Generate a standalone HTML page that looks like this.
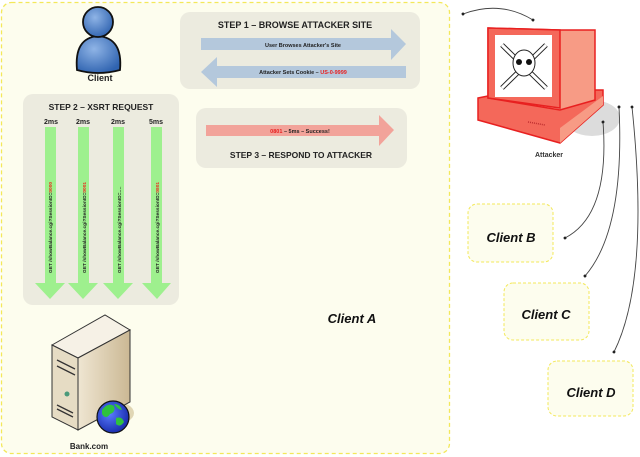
<!DOCTYPE html>
<html><head><meta charset="utf-8"><style>
html,body{margin:0;padding:0;background:#fff;width:640px;height:457px;overflow:hidden}
svg{display:block}
text{font-family:"Liberation Sans",Arial,sans-serif;font-weight:bold}
</style></head><body>
<svg width="640" height="457" viewBox="0 0 640 457" xmlns="http://www.w3.org/2000/svg">
<defs>
<marker id="ah" markerWidth="6" markerHeight="6" refX="3" refY="3" orient="auto"><circle cx="3" cy="3" r="1.6" fill="#222"/></marker>
<radialGradient id="glob" cx="0.4" cy="0.4" r="0.6"><stop offset="0" stop-color="#5a7cff"/><stop offset="1" stop-color="#1b2fb0"/></radialGradient>
<linearGradient id="srv" x1="0" x2="1"><stop offset="0" stop-color="#efe6d2"/><stop offset="1" stop-color="#cbb894"/></linearGradient>
<radialGradient id="person" cx="0.4" cy="0.35" r="0.7"><stop offset="0" stop-color="#8fb4e6"/><stop offset="1" stop-color="#2f63b0"/></radialGradient>
</defs>
<rect x="1.5" y="2.5" width="448" height="451" rx="10" fill="#fdfdee" stroke="#f3e85a" stroke-width="1.3" stroke-dasharray="4,3"/>
<!-- person -->
<path d="M77 70 Q74 38 98 36 Q123 38 120 70 Q98 76 77 70 Z" fill="url(#person)" stroke="#111" stroke-width="1.8"/>
<circle cx="98" cy="22" r="15" fill="url(#person)" stroke="#111" stroke-width="1.8"/>
<text x="100" y="81" font-size="9" text-anchor="middle" fill="#222">Client</text>
<!-- Step 1 -->
<rect x="180" y="12" width="240" height="77" rx="10" fill="#ecebdf"/>
<text x="295" y="28" font-size="9" text-anchor="middle" fill="#222">STEP 1 – BROWSE ATTACKER SITE</text>
<polygon points="201,38 391,38 391,29 406,44 391,60 391,50 201,50" fill="#b4c8dc"/>
<text x="303" y="47" font-size="5.5" text-anchor="middle" fill="#222">User Browses Attacker's Site</text>
<polygon points="406,66 217,66 217,57 201,72 217,87 217,78 406,78" fill="#b4c8dc"/>
<text x="303" y="74" font-size="5.5" text-anchor="middle" fill="#222">Attacker Sets Cookie – <tspan fill="#e82020">US-0-9999</tspan></text>
<!-- Step 2 -->
<rect x="23" y="94" width="156" height="211" rx="10" fill="#ecebdf"/>
<text x="101" y="110" font-size="8.5" text-anchor="middle" fill="#222">STEP 2 – XSRT REQUEST</text>
<g font-size="7" fill="#222" text-anchor="middle"><text x="51" y="124">2ms</text><text x="83" y="124">2ms</text><text x="118" y="124">2ms</text><text x="156" y="124">5ms</text></g>
<g fill="#9ef08e">
<polygon points="45,127 56,127 56,283 65,283 50,299 35,283 45,283"/>
<polygon points="78,127 89,127 89,283 98,283 83,299 68,283 78,283"/>
<polygon points="113,127 124,127 124,283 133,283 118,299 103,283 113,283"/>
<polygon points="151,127 162,127 162,283 171,283 157,299 142,283 151,283"/>
</g>
<g font-size="4.8" fill="#222">
<text transform="translate(52,273) rotate(-90)">GET /showBalance.cgi?SessionID=<tspan fill="#e83020">0000</tspan></text>
<text transform="translate(86,273) rotate(-90)">GET /showBalance.cgi?SessionID=<tspan fill="#e83020">0001</tspan></text>
<text transform="translate(121,273) rotate(-90)">GET /showBalance.cgi?SessionID=….</text>
<text transform="translate(159,273) rotate(-90)">GET /showBalance.cgi?SessionID=<tspan fill="#e83020">0801</tspan></text>
</g>
<!-- Step 3 -->
<rect x="196" y="108" width="211" height="60" rx="10" fill="#ecebdf"/>
<polygon points="206,125 379,125 379,115 394,130 379,146 379,136 206,136" fill="#f2a39a"/>
<text x="300" y="133" font-size="5.5" text-anchor="middle" fill="#222"><tspan fill="#e82020">0801</tspan> – 5ms – Success!</text>
<text x="301" y="158" font-size="8.5" text-anchor="middle" fill="#222">STEP 3 – RESPOND TO ATTACKER</text>
<text x="352" y="323" font-size="13" font-style="italic" text-anchor="middle" fill="#111">Client A</text>
<!-- server -->
<ellipse cx="112" cy="413" rx="22" ry="12" fill="#e0d6b4"/>
<polygon points="52,345 105,315 130,330 78,358" fill="#f6f1e6" stroke="#333" stroke-width="1"/>
<polygon points="52,345 78,358 78,430 52,417" fill="#e6dcc4" stroke="#333" stroke-width="1"/>
<polygon points="78,358 130,330 130,402 78,430" fill="url(#srv)" stroke="#333" stroke-width="1"/>
<g stroke="#333" stroke-width="1.3"><line x1="57" y1="360" x2="75" y2="369"/><line x1="57" y1="366" x2="75" y2="375"/><line x1="57" y1="405" x2="73" y2="413"/><line x1="57" y1="409" x2="73" y2="417"/></g>
<circle cx="67" cy="394" r="2.5" fill="#4a9a7a"/>
<circle cx="113" cy="417" r="16" fill="url(#glob)" stroke="#111" stroke-width="1.2"/>
<path d="M102 410 q6-8 12-4 q2 6-4 8 q-4 6-8 0z M116 418 q6-2 8 4 q-4 6-8 2z M114 404 q6 0 8 6 q-4 0-8-6z" fill="#2ec23e"/>
<text x="89" y="449" font-size="8" text-anchor="middle" fill="#222">Bank.com</text>
<!-- attacker -->
<ellipse cx="592" cy="118" rx="28" ry="18" fill="#dcdcdc"/>
<polygon points="478,98 518,90 603,90 603,105 560,143 478,120" fill="#f4685a" stroke="#e82020" stroke-width="1.5"/>
<polygon points="560,128 603,96 603,105 560,143" fill="#f79b85"/>
<polygon points="488,28 560,30 595,30 595,100 560,110 488,98" fill="#f79b85" stroke="#e82020" stroke-width="1.5"/>
<polygon points="488,28 560,30 560,108 488,98" fill="#f4685a" stroke="#e82020" stroke-width="1.5"/>
<rect x="495" y="35" width="57" height="62" fill="#fff"/>
<g stroke="#222" stroke-width="1" fill="#fff"><line x1="502" y1="45" x2="546" y2="88" stroke-width="5"/><line x1="546" y1="45" x2="502" y2="88" stroke-width="5"/><line x1="502" y1="45" x2="546" y2="88" stroke="#fff" stroke-width="3"/><line x1="546" y1="45" x2="502" y2="88" stroke="#fff" stroke-width="3"/><ellipse cx="524" cy="63" rx="11" ry="13"/></g>
<circle cx="519" cy="62" r="3" fill="#111"/><circle cx="529" cy="62" r="3" fill="#111"/>
<line x1="528" y1="122" x2="545" y2="125" stroke="#c03030" stroke-width="1.5" stroke-dasharray="1,1"/>
<text x="549" y="157" font-size="7" text-anchor="middle" fill="#333">Attacker</text>
<!-- connectors -->
<g fill="none" stroke="#444" stroke-width="0.9" marker-start="url(#ah)" marker-end="url(#ah)">
<path d="M463 14 Q500 0 533 20"/>
<path d="M603 122 Q610 215 565 238"/>
<path d="M619 107 Q625 230 585 276"/>
<path d="M632 107 Q650 280 614 352"/>
</g>
<!-- clients -->
<g fill="#fdfdee" stroke="#f3e85a" stroke-width="1" stroke-dasharray="3,2">
<rect x="468" y="204" width="85" height="58" rx="9"/>
<rect x="504" y="283" width="85" height="57" rx="9"/>
<rect x="548" y="361" width="85" height="55" rx="9"/>
</g>
<g font-size="13" font-style="italic" text-anchor="middle" fill="#111">
<text x="511" y="242">Client B</text>
<text x="546" y="319">Client C</text>
<text x="591" y="397">Client D</text>
</g>
</svg>
</body></html>
